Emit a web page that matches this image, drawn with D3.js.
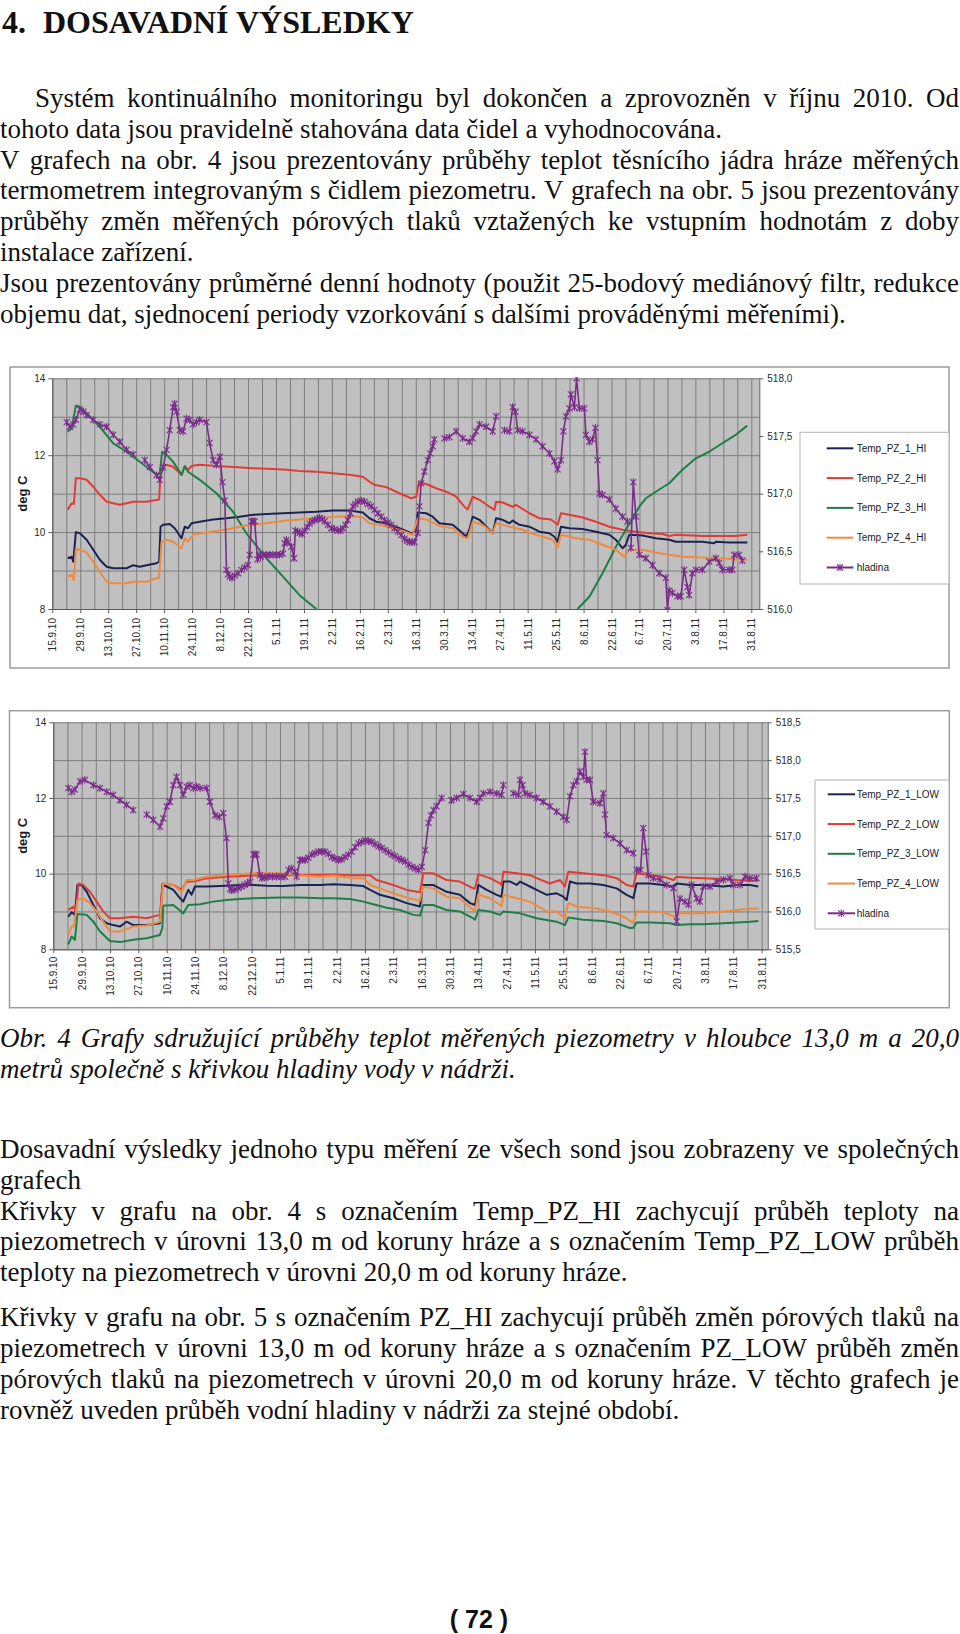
<!DOCTYPE html>
<html><head><meta charset="utf-8">
<script src="https://cdn.jsdelivr.net/npm/d3@7"></script>
<style>body{margin:0;background:#fff}svg{display:block}</style>
</head><body>
<svg id="page" width="960" height="1634"></svg>
<script>
// ---------------- DATA ----------------
const startLabel = "15.9.10";
const dateLabels = ["15.9.10","29.9.10","13.10.10","27.10.10","10.11.10","24.11.10","8.12.10","22.12.10","5.1.11","19.1.11","2.2.11","16.2.11","2.3.11","16.3.11","30.3.11","13.4.11","27.4.11","11.5.11","25.5.11","8.6.11","22.6.11","6.7.11","20.7.11","3.8.11","17.8.11","31.8.11"];
const leftTicks = [8, 10, 12, 14];
const rightTicksHI = [516.0, 516.5, 517.0, 517.5, 518.0];
const rightTicksLOW = [515.5, 516.0, 516.5, 517.0, 517.5, 518.0, 518.5];
const namesHI = ["Temp_PZ_1_HI","Temp_PZ_2_HI","Temp_PZ_3_HI","Temp_PZ_4_HI","hladina"];
const namesLOW = ["Temp_PZ_1_LOW","Temp_PZ_2_LOW","Temp_PZ_3_LOW","Temp_PZ_4_LOW","hladina"];
const seriesColors = ["#1c2352","#e03c36","#1f7d47","#f08a3e","#7b2c8b"];

// values: [days since 15.9.2010, value]; null = no data
const tempPZ1_HI = [[7.7,9.32],[9.7,9.36],[10.5,9.23],[11.8,10.00],[13.8,9.97],[17.2,9.80],[20.5,9.54],[23.8,9.28],[27.2,9.10],[30.5,9.06],[37.2,9.06],[40.5,9.14],[43.8,9.10],[47.2,9.14],[52.2,9.19],[53.5,9.23],[54.2,10.14],[55.5,10.19],[58.8,10.21],[61.3,10.10],[64.7,9.84],[66.3,10.14],[68,10.10],[69.7,10.23],[73.8,10.27],[80.5,10.33],[87.2,10.36],[93.8,10.40],[100.5,10.45],[107.2,10.47],[115.5,10.49],[123.8,10.51],[132.2,10.53],[140.5,10.56],[148.8,10.56],[155.5,10.51],[158.8,10.36],[162.2,10.27],[167.2,10.23],[173.8,10.10],[179.7,9.97],[181.8,10.01],[183,10.51],[187.2,10.49],[190.5,10.40],[193.8,10.23],[200.5,10.19],[205.5,9.97],[207.2,9.88],[208.8,10.06],[210.5,10.40],[213.9,10.32],[220.5,9.97],[222.2,10.36],[225.5,10.32],[228.9,10.23],[230.5,10.30],[233.9,10.19],[238.9,10.14],[243.9,10.01],[248.9,9.97],[251.4,9.88],[253,9.75],[254.7,10.14],[258.9,10.10],[265.5,10.08],[272.2,10.01],[278.9,9.93],[282.2,9.80],[285.5,9.58],[287.2,9.67],[288.9,9.93],[295.5,9.91],[302.2,9.84],[308.9,9.80],[312.2,9.75],[315.5,9.75],[325.5,9.75],[331.4,9.71],[332.2,9.75],[338.9,9.73],[348,9.73]];
const tempPZ2_HI = [[7.7,10.58],[9.7,10.75],[10.8,10.73],[11.8,11.40],[13.8,11.40],[17.2,11.36],[20.5,11.18],[23.8,10.97],[27.2,10.79],[30.5,10.75],[33.8,10.71],[37.2,10.75],[40.5,10.79],[47.2,10.79],[53.5,10.85],[54.3,11.62],[57.2,11.75],[60.5,11.70],[64.7,11.49],[66.3,11.72],[68,11.62],[69.7,11.72],[73.8,11.75],[82.2,11.72],[90.5,11.69],[100.5,11.66],[110.5,11.64],[117.2,11.62],[123.8,11.59],[132.2,11.57],[140.5,11.53],[148.8,11.49],[155.5,11.44],[158.8,11.31],[161.3,11.23],[167.2,11.17],[173.8,11.01],[179.7,10.88],[182.2,10.92],[183.5,11.29],[187.2,11.25],[192.2,11.14],[197.2,11.05],[202.2,10.92],[206.3,10.66],[208,10.59],[210.5,10.92],[213.9,10.84],[218.9,10.66],[221.4,10.58],[222.2,10.79],[225.5,10.77],[230.5,10.66],[232.2,10.71],[238.9,10.49],[243.9,10.36],[249.7,10.33],[253,10.19],[254.7,10.49],[258.9,10.45],[265.5,10.38],[272.2,10.27],[278.9,10.14],[285.5,10.06],[292.2,10.01],[298.9,9.97],[305.5,9.95],[308.9,9.90],[312.2,9.93],[325.5,9.90],[332.2,9.90],[342.2,9.90],[348,9.93]];
const tempPZ3_HI = [[7.7,12.61],[9.7,12.70],[11.8,13.29],[13.8,13.26],[17.2,13.09],[23.8,12.74],[30.5,12.31],[37.2,12.09],[43.8,11.83],[52.2,11.49],[53.8,11.53],[55,12.09],[57.2,12.01],[60.5,11.83],[64.7,11.49],[66.3,11.70],[68,11.57],[73.8,11.36],[82.2,11.01],[90.5,10.53],[97.2,9.97],[107.2,9.32],[115.5,8.84],[123.8,8.36],[132.2,8.00],[200,null],[263,8.00],[268.9,8.32],[275.5,8.93],[282.2,9.62],[287.2,10.06],[290.5,10.36],[293.9,10.66],[297.2,10.88],[302.2,11.05],[308.9,11.27],[315.5,11.62],[322.2,11.92],[328.9,12.09],[335.5,12.31],[342.2,12.53],[348,12.77]];
const tempPZ4_HI = [[7.7,8.86],[9.7,8.89],[10.8,8.75],[11.8,9.56],[13.8,9.54],[17.2,9.47],[20.5,9.23],[23.8,8.97],[27.2,8.71],[30.5,8.67],[37.2,8.67],[40.5,8.71],[47.2,8.71],[52.2,8.80],[53.5,8.80],[54.7,9.75],[57.2,9.80],[60.5,9.75],[64.7,9.58],[66.3,9.84],[68,9.75],[70.5,9.93],[77.2,9.99],[87.2,10.07],[97.2,10.17],[107.2,10.23],[117.2,10.30],[127.2,10.34],[137.2,10.38],[148.8,10.42],[155.5,10.38],[158.8,10.23],[163.8,10.19],[173.8,10.06],[180.5,9.93],[183,10.36],[187.2,10.33],[193.8,10.16],[200.5,10.10],[205.5,9.88],[208,9.84],[210.5,10.27],[215.5,10.19],[220.5,9.97],[222.2,10.23],[228.9,10.14],[235.5,10.06],[242.2,9.93],[250.5,9.80],[253,9.60],[254.7,9.93],[262.2,9.84],[268.9,9.80],[275.5,9.67],[282.2,9.54],[286.4,9.36],[288.9,9.54],[295.5,9.54],[302.2,9.47],[308.9,9.41],[315.5,9.36],[325.5,9.34],[335.5,9.32],[342.2,9.29],[348,9.28]];
const hladinaHI = [[7.2,517.62],[8.8,517.58],[10.5,517.60],[11.8,517.64],[13.8,517.73],[15.5,517.71],[17.2,517.68],[20.5,517.64],[23.8,517.60],[27.2,517.58],[30.5,517.51],[33.8,517.45],[37.2,517.38],[40.5,517.34],[43,null],[46.3,517.29],[48.8,517.23],[52.2,517.16],[53.8,517.12],[55.5,517.23],[57.2,517.38],[58.8,517.55],[60.5,517.75],[61.3,517.78],[62.2,517.71],[63.8,517.55],[65.5,517.54],[67.2,517.65],[68.8,517.64],[70.5,517.60],[72.2,517.62],[73.8,517.64],[77.2,517.62],[78.8,517.44],[80.5,517.29],[82.2,517.25],[83.9,517.32],[85.2,517.10],[86.4,516.94],[87.2,516.34],[88.0,516.30],[88.85,516.28],[90.0,516.27],[91.35,516.29],[93.0,516.31],[94.7,516.34],[96.3,516.36],[98,516.38],[98.85,516.47],[99.7,516.76],[100.5,516.76],[101.35,516.76],[102.7,516.43],[103.5,516.47],[104.3,516.45],[105.5,516.47],[107.2,516.47],[108.8,516.47],[110.5,516.47],[112.2,516.47],[113.8,516.47],[115.5,516.48],[116.35,516.57],[117.2,516.60],[118,516.58],[119.7,516.54],[121,516.44],[121.7,516.68],[122.8,516.67],[123.85,516.66],[125.1,516.65],[126.35,516.68],[127.6,516.71],[128.85,516.74],[130.1,516.76],[131.35,516.77],[132.6,516.78],[133.85,516.79],[135.1,516.78],[136.35,516.76],[138,516.73],[139.7,516.70],[141.3,516.69],[143,516.68],[144.3,516.68],[145.5,516.70],[146.8,516.73],[148,516.77],[149.3,516.83],[150.5,516.89],[151.7,516.91],[153,516.93],[154.7,516.94],[156.35,516.93],[158,516.91],[159.7,516.89],[161.3,516.86],[163,516.83],[164.7,516.80],[166.35,516.77],[168,516.75],[169.7,516.73],[171.3,516.70],[173,516.67],[174.7,516.64],[176.35,516.61],[177.6,516.59],[178.85,516.58],[180.1,516.58],[181.35,516.58],[183,516.66],[183.85,516.89],[184.7,517.09],[186.3,517.19],[188,517.29],[189.2,517.35],[190.5,517.41],[191.3,517.47],[194,null],[196.3,517.48],[198.8,517.49],[202.2,517.54],[205.5,517.48],[208.8,517.45],[210.5,517.48],[212.2,517.54],[213.9,517.60],[217.2,517.58],[220.5,517.54],[222.2,517.67],[224,null],[226.4,517.55],[228.9,517.54],[230.5,517.75],[231.9,517.71],[233,517.55],[235.5,517.54],[238.9,517.51],[242.2,517.47],[245.5,517.41],[248.9,517.35],[251.4,517.28],[253,517.21],[254.7,517.29],[255.9,517.54],[257.2,517.67],[258.9,517.74],[259.7,517.86],[261.4,517.75],[262.5,518.00],[263.9,517.74],[266.4,517.74],[267.2,517.51],[268.9,517.45],[270.5,517.47],[271.9,517.57],[273,517.29],[273.9,517.00],[275.5,516.99],[278.9,516.95],[282.2,516.87],[285.5,516.80],[288,516.76],[289,null],[289.7,516.53],[290.9,517.10],[292.2,516.80],[293.9,516.47],[297.2,516.44],[300.5,516.38],[303.9,516.31],[307.2,516.27],[308,515.99],[308.9,516.16],[310.5,516.14],[313,516.11],[314.7,516.11],[316.4,516.34],[318,516.19],[318.9,516.12],[320.5,516.31],[322.2,516.34],[325.5,516.34],[328.9,516.41],[332.2,516.44],[333.9,516.40],[335.5,516.34],[338.9,516.34],[340.5,516.34],[341.4,516.47],[343.9,516.47],[345.5,516.42]];

const tempPZ1_LOW = [[7.4,8.86],[9.1,8.98],[10.7,8.91],[11.9,9.70],[14,9.70],[16.5,9.52],[19.8,9.17],[23.1,8.82],[26.4,8.69],[29.6,8.64],[32.9,8.60],[36.2,8.73],[39.5,8.64],[46.1,8.64],[52.7,8.69],[53.9,9.70],[56,9.66],[59.3,9.57],[62.6,9.35],[64.2,9.26],[66.7,9.57],[68.3,9.44],[70,9.66],[75.8,9.66],[85.6,9.68],[92.2,9.70],[98.8,9.70],[105.4,9.68],[113.6,9.67],[121.9,9.70],[131.8,9.70],[138.3,9.72],[146.6,9.70],[153.2,9.67],[156.5,9.57],[161.4,9.44],[168,9.35],[174.6,9.22],[181.2,9.13],[182.5,9.70],[187.7,9.70],[194.3,9.52],[200.9,9.44],[205.9,9.22],[208.4,9.17],[210,9.70],[214.1,9.57],[219.1,9.44],[221.5,9.39],[222.4,9.79],[225.7,9.79],[229,9.70],[230.6,9.79],[235.5,9.66],[238.8,9.57],[243.8,9.44],[248.7,9.48],[252,9.39],[253.7,9.30],[255.3,9.79],[258.6,9.74],[265.2,9.74],[271.8,9.70],[278.4,9.61],[283.3,9.44],[286.6,9.35],[288.2,9.74],[294.8,9.74],[301.4,9.70],[306.4,9.66],[308,9.74],[314.6,9.70],[321.2,9.70],[331.1,9.66],[337.7,9.70],[344.2,9.70],[348.4,9.66]];
const tempPZ2_LOW = [[7.4,9.04],[9.9,9.13],[11.2,9.00],[12.4,9.74],[14.8,9.70],[18.1,9.52],[21.4,9.26],[24.7,9.00],[28,8.82],[32.9,8.82],[39.5,8.86],[46.1,8.82],[52.7,8.91],[54,9.74],[59.3,9.70],[63.4,9.57],[65.9,9.79],[69.2,9.79],[75.8,9.88],[85.6,9.92],[98.8,9.95],[112,9.96],[121.9,9.96],[138.3,9.98],[146.6,9.96],[156.5,9.96],[159.7,9.83],[168,9.70],[174.6,9.57],[181.2,9.51],[182.8,10.01],[187.7,10.01],[194.3,9.83],[200.9,9.79],[207.5,9.61],[208.4,9.61],[210,9.98],[215.8,9.88],[220.7,9.74],[221.5,9.70],[222.4,10.05],[229,10.01],[235.5,9.96],[238.8,9.88],[245.4,9.74],[250.4,9.83],[252.8,9.66],[254.5,10.05],[261.9,10.01],[271.8,9.96],[278.4,9.88],[283.3,9.70],[286.6,9.66],[288.2,10.01],[294.8,9.96],[301.4,9.92],[306.4,9.83],[308,9.92],[314.6,9.89],[321.2,9.88],[331.1,9.86],[337.7,9.83],[344.2,9.81],[348.4,9.81]];
const tempPZ3_LOW = [[7.4,8.13],[9.1,8.34],[10.7,8.25],[11.9,8.93],[16.5,8.91],[19.8,8.73],[23.1,8.47],[28,8.22],[32.9,8.19],[39.5,8.25],[46.1,8.29],[52.7,8.38],[53.9,8.57],[54.3,9.15],[59.3,9.17],[64.2,8.95],[66.7,9.17],[72.5,9.19],[79,9.26],[85.6,9.30],[92.2,9.33],[98.8,9.35],[112,9.37],[121.9,9.37],[131.8,9.35],[138.3,9.35],[146.6,9.33],[153.2,9.26],[158.1,9.19],[164.7,9.10],[171.3,9.04],[177.9,8.91],[181.2,8.89],[182.8,9.17],[187.7,9.17],[194.3,9.04],[200.9,9.00],[207.5,8.82],[208.4,8.78],[210,9.04],[215.8,9.00],[220.7,8.91],[222.4,9.00],[230.6,8.95],[238.8,8.82],[248.7,8.73],[252.8,8.64],[254.5,8.84],[261.9,8.78],[271.8,8.75],[278.4,8.69],[285,8.56],[286.6,8.57],[288.2,8.71],[294.8,8.71],[304.7,8.69],[308,8.64],[314.6,8.66],[321.2,8.66],[331.1,8.69],[337.7,8.71],[344.2,8.73],[348.4,8.75]];
const tempPZ4_LOW = [[7.4,8.38],[9.1,8.60],[10.2,8.60],[11.9,9.30],[14.8,9.35],[18.1,9.22],[21.4,9.00],[24.7,8.73],[28,8.48],[32.9,8.47],[39.5,8.60],[46.1,8.63],[52.7,8.73],[54.3,9.74],[59.3,9.70],[63.4,9.52],[65.9,9.83],[69.2,9.83],[75.8,9.92],[85.6,9.96],[98.8,10.01],[112,10.01],[121.9,9.96],[131.8,9.92],[138.3,9.95],[148.2,9.88],[153.2,9.88],[156.5,9.70],[161.4,9.61],[168,9.48],[174.6,9.37],[181.2,9.28],[182.5,9.66],[187.7,9.61],[194.3,9.39],[200.9,9.35],[207.5,9.04],[208.4,9.04],[210,9.45],[215.8,9.35],[220.7,9.17],[221.5,9.13],[222.4,9.44],[229,9.35],[235.5,9.26],[243.8,9.00],[248.7,9.00],[252.8,8.82],[254.5,9.22],[258.6,9.13],[268.5,9.08],[275.1,9.00],[283.3,8.82],[286.6,8.69],[288.2,9.00],[294.8,9.00],[301.4,8.98],[307.2,8.86],[309.7,8.95],[321.2,8.95],[331.1,9.00],[337.7,9.04],[344.2,9.08],[348.4,9.08]];
const hladinaLOW = [[7.4,517.63],[9.1,517.58],[10.7,517.61],[13.2,517.72],[15.6,517.74],[19.8,517.67],[23.1,517.63],[26.4,517.58],[29.6,517.54],[32.9,517.47],[36.2,517.41],[39.5,517.34],[42,null],[46.1,517.28],[49.4,517.21],[52.7,517.12],[54.3,517.23],[56,517.39],[57.6,517.45],[59.3,517.67],[60.9,517.78],[62.6,517.67],[64.2,517.54],[65.9,517.65],[67.5,517.67],[69.2,517.63],[70.8,517.65],[72.5,517.63],[75.8,517.63],[77.4,517.45],[79.9,517.27],[82,517.25],[84,517.30],[85.6,516.97],[86.5,516.37],[87.3,516.30],[88.1,516.28],[89.7,516.29],[91.4,516.31],[93,516.33],[94.7,516.35],[96,516.37],[97.2,516.39],[98.8,516.75],[99.6,516.76],[100.5,516.75],[102.1,516.48],[103,516.44],[104.6,516.45],[106.2,516.46],[108.3,516.46],[110.4,516.46],[112.5,516.46],[114.5,516.46],[116.2,516.55],[117.8,516.57],[119.4,516.53],[120.3,516.46],[121.9,516.68],[123.1,516.68],[124.4,516.68],[126,516.71],[127.7,516.75],[129.3,516.77],[131,516.79],[132.6,516.79],[134.3,516.79],[135.9,516.76],[137.6,516.72],[139.2,516.70],[140.9,516.68],[142.5,516.69],[144.2,516.72],[145.8,516.75],[147.5,516.79],[149.1,516.85],[150.8,516.90],[152.4,516.92],[154.1,516.94],[155.7,516.93],[157.4,516.92],[159,516.89],[160.7,516.86],[162.3,516.84],[164,516.81],[165.6,516.78],[167.3,516.75],[168.9,516.73],[170.6,516.70],[172.2,516.68],[173.9,516.66],[175.5,516.62],[177.2,516.59],[178.8,516.57],[180.5,516.55],[182.1,516.59],[183.8,516.81],[185.4,517.17],[186.6,517.27],[187.9,517.34],[189.4,517.39],[191.9,517.50],[194,null],[196.8,517.47],[199.3,517.50],[202.6,517.55],[205.9,517.50],[209.2,517.45],[210.8,517.50],[212.5,517.56],[215.8,517.58],[219.1,517.56],[221.5,517.54],[222.4,517.67],[224.5,null],[227.3,517.56],[229.8,517.54],[230.6,517.74],[231.9,517.67],[233.1,517.56],[235.5,517.54],[238.8,517.50],[242.1,517.45],[245.4,517.39],[248.7,517.32],[252,517.25],[253.7,517.21],[255.3,517.52],[257,517.67],[258.6,517.72],[260.2,517.85],[261.9,517.78],[262.7,518.11],[263.5,517.74],[265.2,517.74],[266.8,517.45],[270.1,517.43],[271.8,517.56],[272.6,517.28],[273.4,517.01],[276.7,516.97],[280,516.90],[283.3,516.81],[286.6,516.77],[287.4,null],[288.2,516.55],[290.2,516.55],[291.5,517.10],[292.9,516.79],[294,516.48],[296.5,516.44],[299.8,516.42],[303.1,516.35],[306.4,516.31],[308,515.87],[309.7,516.17],[312.1,516.13],[313.8,516.09],[315.4,516.35],[317.9,516.17],[319.5,516.13],[321.2,516.33],[324.5,516.33],[327.8,516.39],[331.1,516.42],[334.4,516.44],[336,516.35],[339.3,516.35],[341.8,516.46],[344.2,516.44],[347.5,516.44]];

// text content
const titleNum = "4.";
const titleText = "DOSAVADNÍ VÝSLEDKY";
const para1 = [
 ["Systém kontinuálního monitoringu byl dokončen a zprovozněn v říjnu 2010. Od", true, 35],
 ["tohoto data jsou pravidelně stahována data čidel a vyhodnocována.", false, 0],
 ["V grafech na obr. 4 jsou prezentovány průběhy teplot těsnícího jádra hráze měřených", true, 0],
 ["termometrem integrovaným s čidlem piezometru. V grafech na obr. 5 jsou prezentovány", true, 0],
 ["průběhy změn měřených pórových tlaků vztažených ke vstupním hodnotám z doby", true, 0],
 ["instalace zařízení.", false, 0],
 ["Jsou prezentovány průměrné denní hodnoty (použit 25-bodový mediánový filtr, redukce", true, 0],
 ["objemu dat, sjednocení periody vzorkování s dalšími prováděnými měřeními).", false, 0]
];
const caption = [
 ["Obr. 4 Grafy sdružující průběhy teplot měřených piezometry v hloubce 13,0 m a 20,0", true, 0],
 ["metrů společně s křivkou hladiny vody v nádrži.", false, 0]
];
const para2 = [
 ["Dosavadní výsledky jednoho typu měření ze všech sond jsou zobrazeny ve společných", true, 0],
 ["grafech", false, 0],
 ["Křivky v grafu na obr. 4 s označením Temp_PZ_HI zachycují průběh teploty na", true, 0],
 ["piezometrech v úrovni 13,0 m od koruny hráze a s označením Temp_PZ_LOW průběh", true, 0],
 ["teploty na piezometrech v úrovni 20,0 m od koruny hráze.", false, 0]
];
const para3 = [
 ["Křivky v grafu na obr. 5 s označením PZ_HI zachycují průběh změn pórových tlaků na", true, 0],
 ["piezometrech v úrovni 13,0 m od koruny hráze a s označením PZ_LOW průběh změn", true, 0],
 ["pórových tlaků na piezometrech v úrovni 20,0 m od koruny hráze. V těchto grafech je", true, 0],
 ["rovněž uveden průběh vodní hladiny v nádrži za stejné období.", false, 0]
];
const pageNumber = "( 72 )";

// ---------------- DRAWING ----------------
const svg = d3.select("#page");
svg.append("rect").attr("width",960).attr("height",1634).attr("fill","#fff");

const SERIF = "'Liberation Serif','Times New Roman',serif";
const SANS = "'Liberation Sans',Arial,sans-serif";

function textLine(str, justify, x0, y, italic) {
  const t = svg.append("text").attr("x", x0).attr("y", y)
    .style("font-family", SERIF).style("font-size", "27px").attr("fill", "#111")
    .style("font-style", italic ? "italic" : "normal");
  if (!justify) { t.text(str); return; }
  const words = str.split(" ");
  const spans = words.map(w => t.append("tspan").text(w));
  const widths = spans.map(s => s.node().getComputedTextLength());
  const gap = (959 - x0 - d3.sum(widths)) / (words.length - 1);
  let x = x0;
  spans.forEach((s, i) => { s.attr("x", x); x += widths[i] + gap; });
}
function block(lines, y0, dy, italic) {
  lines.forEach((l, i) => textLine(l[0], l[1], l[2], y0 + i * dy, italic));
}

svg.append("text").attr("x", 2).attr("y", 33).text(titleNum)
  .style("font-family", SERIF).style("font-weight", "bold").style("font-size", "32px").attr("fill","#111");
svg.append("text").attr("x", 43).attr("y", 33).text(titleText)
  .style("font-family", SERIF).style("font-weight", "bold").style("font-size", "32px").attr("fill","#111");

block(para1, 107, 30.8, false);
block(caption, 1047, 31, true);
block(para2, 1158, 30.8, false);
block(para3, 1326, 31, false);

svg.append("text").attr("x", 479).attr("y", 1628).attr("text-anchor","middle").text(pageNumber)
  .style("font-family", SANS).style("font-weight","bold").style("font-size","25px").attr("fill","#111");

// ---------------- CHARTS ----------------
const parseD = d3.timeParse("%d.%m.%y");
const start = parseD(startLabel);
const dayToDate = d => new Date(+start + d * 864e5);
const commaFmt = d => d3.format(".1f")(d).replace(".", ",");

function drawChart(cfg) {
  const g = svg.append("g");
  g.append("rect").attr("x", cfg.frame[0]).attr("y", cfg.frame[1]).attr("width", cfg.frame[2]).attr("height", cfg.frame[3])
    .attr("fill", "#fff").attr("stroke", "#9c9c9c").attr("stroke-width", 1.5);

  const x = d3.scaleTime().domain([start, dayToDate(cfg.maxDay)]).range([cfg.px0, cfg.px1]);
  const yL = d3.scaleLinear().domain([8, 14]).range([cfg.py1, cfg.py0]);
  const yR = d3.scaleLinear().domain(cfg.rightDomain).range([cfg.py1, cfg.py0]);
  const W = cfg.px1 - cfg.px0, H = cfg.py1 - cfg.py0;

  g.append("rect").attr("x", cfg.px0).attr("y", cfg.py0).attr("width", W).attr("height", H).attr("fill", "#c0c0c0");

  const weekly = d3.range(0, cfg.maxDay + 0.01, 7).map(dayToDate);
  g.append("g").attr("transform", `translate(0,${cfg.py1})`)
    .call(d3.axisBottom(x).tickValues(weekly).tickSize(-H).tickFormat(""))
    .call(a => a.select(".domain").remove())
    .selectAll("line").attr("stroke", "#7e7e7e").attr("stroke-width", 1);
  g.append("g").attr("transform", `translate(${cfg.px0},0)`)
    .call(d3.axisLeft(yL).tickValues(d3.range(8, 14.01, 1)).tickSize(-W).tickFormat(""))
    .call(a => a.select(".domain").remove())
    .selectAll("line").attr("stroke", "#7e7e7e").attr("stroke-width", 1);

  const styleAxis = a => {
    a.select(".domain").attr("stroke", "#5a5a5a");
    a.selectAll(".tick line").attr("stroke", "#5a5a5a");
    a.selectAll("text").style("font-family", SANS).style("font-size", "10px").attr("fill", "#2a2a2a");
  };
  const tickDates = dateLabels.map(parseD);
  g.append("g").attr("transform", `translate(0,${cfg.py1})`)
    .call(d3.axisBottom(x).tickValues(tickDates).tickSize(4).tickSizeOuter(0).tickFormat((d, i) => dateLabels[i]))
    .call(styleAxis)
    .selectAll("text").attr("transform", "rotate(-90)").attr("text-anchor", "end")
    .attr("x", -cfg.labelGap).attr("y", 0).attr("dy", "0.35em");
  g.append("g").attr("transform", `translate(${cfg.px0},0)`)
    .call(d3.axisLeft(yL).tickValues(leftTicks).tickSize(4).tickSizeOuter(0).tickPadding(3).tickFormat(d3.format("d")))
    .call(styleAxis);
  g.append("g").attr("transform", `translate(${cfg.px1},0)`)
    .call(d3.axisRight(yR).tickValues(cfg.rightTicks).tickSize(4).tickSizeOuter(0).tickPadding(cfg.rightPad).tickFormat(commaFmt))
    .call(styleAxis);

  g.append("text").attr("transform", `translate(${cfg.titleX},${(cfg.py0 + cfg.py1) / 2}) rotate(-90)`)
    .attr("text-anchor", "middle").attr("dy", "0.35em").text("deg C")
    .style("font-family", SANS).style("font-weight", "bold").style("font-size", "13px").attr("fill", "#1a1a1a");

  const cid = "clip" + cfg.id;
  g.append("clipPath").attr("id", cid).append("rect")
    .attr("x", cfg.px0).attr("y", cfg.py0 - 1).attr("width", W).attr("height", H + 2);
  const plot = g.append("g").attr("clip-path", `url(#${cid})`);

  const lineL = d3.line().defined(d => d[1] != null).x(d => x(dayToDate(d[0]))).y(d => yL(d[1]));
  const lineR = d3.line().defined(d => d[1] != null).x(d => x(dayToDate(d[0]))).y(d => yR(d[1]));
  cfg.temps.forEach((s, i) => {
    plot.append("path").datum(s).attr("d", lineL).attr("fill", "none")
      .attr("stroke", seriesColors[i]).attr("stroke-width", 2).attr("stroke-linejoin", "round");
  });
  plot.append("path").datum(cfg.level).attr("d", lineR).attr("fill", "none")
    .attr("stroke", seriesColors[4]).attr("stroke-width", 1.6).attr("stroke-linejoin", "round");
  const star = "M-3,-3L3,3M-3,3L3,-3M0,-3.8L0,3.8";
  plot.selectAll(".mk").data(cfg.level.filter(d => d[1] != null)).join("path")
    .attr("transform", d => `translate(${x(dayToDate(d[0]))},${yR(d[1])})`)
    .attr("d", star).attr("fill", "none").attr("stroke", seriesColors[4]).attr("stroke-width", 1.1);

  const L = cfg.legend;
  g.append("rect").attr("x", L.x).attr("y", L.y).attr("width", L.w).attr("height", L.h)
    .attr("fill", "#fff").attr("stroke", "#b4b4b4").attr("stroke-width", 1);
  const items = g.selectAll(".lg").data(cfg.names).join("g")
    .attr("transform", (d, i) => `translate(0,${L.row0 + i * L.dy})`);
  items.append("line").attr("x1", L.lx0).attr("x2", L.lx1).attr("stroke", (d, i) => seriesColors[i]).attr("stroke-width", 2);
  items.filter((d, i) => i === 4).append("path").attr("transform", `translate(${(L.lx0 + L.lx1) / 2},0)`)
    .attr("d", star).attr("fill", "none").attr("stroke", seriesColors[4]).attr("stroke-width", 1.1);
  items.append("text").attr("x", L.tx).attr("dy", "0.35em").text(d => d)
    .style("font-family", SANS).style("font-size", "10px").attr("fill", "#1a1a1a");
}

drawChart({
  id: "HI", frame: [10, 367, 939, 301],
  px0: 52.3, px1: 759.3, py0: 378.3, py1: 609, maxDay: 354,
  rightDomain: [516, 518], rightTicks: rightTicksHI, rightPad: 4, labelGap: 9, titleX: 22.5,
  temps: [tempPZ1_HI, tempPZ2_HI, tempPZ3_HI, tempPZ4_HI], level: hladinaHI, names: namesHI,
  legend: {x: 800, y: 432.3, w: 149, h: 151.7, lx0: 826.7, lx1: 853.3, tx: 856.7, row0: 448.3, dy: 29.8}
});
drawChart({
  id: "LOW", frame: [9.5, 710.7, 939.8, 297],
  px0: 53.3, px1: 767.7, py0: 722.3, py1: 949.3, maxDay: 353,
  rightDomain: [515.5, 518.5], rightTicks: rightTicksLOW, rightPad: 4, labelGap: 7.5, titleX: 22.5,
  temps: [tempPZ1_LOW, tempPZ2_LOW, tempPZ3_LOW, tempPZ4_LOW], level: hladinaLOW, names: namesLOW,
  legend: {x: 815, y: 780, w: 134, h: 149, lx0: 827.7, lx1: 855, tx: 856.7, row0: 794.3, dy: 29.75}
});
</script>
</body></html>
